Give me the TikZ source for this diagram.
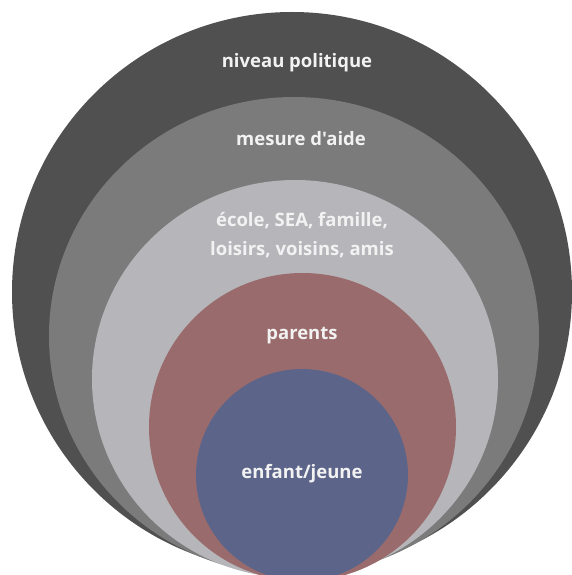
\documentclass[tikz,border=0pt]{standalone}
\usepackage{fontspec}
\newfontfamily\lblfont{Open Sans}
\definecolor{cOuter}{HTML}{505050}
\definecolor{cMesure}{HTML}{7B7B7B}
\definecolor{cEcole}{HTML}{B6B6BA}
\definecolor{cParents}{HTML}{9A6B6C}
\definecolor{cEnfant}{HTML}{5C6589}
\definecolor{cText}{HTML}{F2F2F2}
\begin{document}
\begin{tikzpicture}[x=1pt,y=-1pt,
  lbl/.style={text=cText,font=\lblfont\fontsize{18.5}{29}\selectfont\bfseries,align=center,inner sep=0pt}]
\useasboundingbox (0,0) rectangle (572,575);
\fill[white] (0,0) rectangle (572,575);
\begin{scope}
\clip (0,0) rectangle (572,575);
\fill[cOuter] (292,292) ellipse [x radius=280, y radius=280];
\fill[cMesure] (294,336) ellipse [x radius=245, y radius=239];
\fill[cEcole] (295,379) ellipse [x radius=203, y radius=199];
\fill[cParents] (302.5,427) ellipse [x radius=153.5, y radius=154];
\fill[cEnfant] (302,475) ellipse [x radius=106, y radius=106];
\end{scope}
\node[lbl] (niveau) at (297,63) {niveau politique};
\node[lbl] (mesure) at (301,139) {mesure d'aide};
\node[lbl] (ecole) at (302,235.5) {école, SEA, famille,\\loisirs, voisins, amis};
\node[lbl] (parents) at (302,336) {parents};
\node[lbl] (enfant) at (302,474) {enfant/jeune};
\end{tikzpicture}
\end{document}
